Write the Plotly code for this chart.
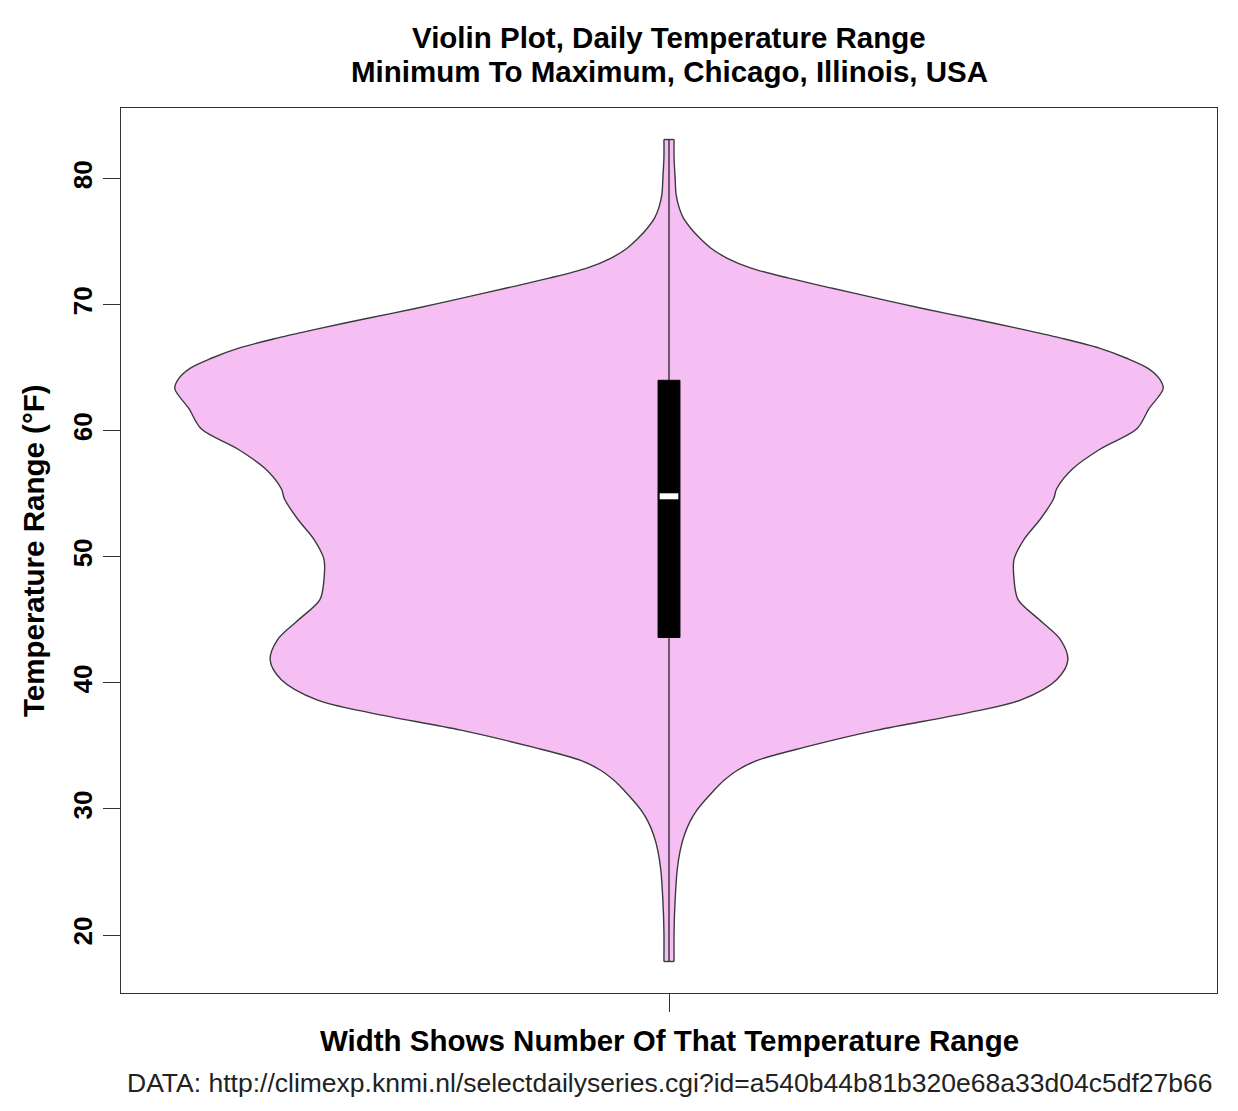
import plotly.graph_objects as go

# violin outline: temperature range (°F) and half-width
temp_levels = [83.1, 81.65, 80.1, 78.75, 77.7, 76.9, 76.1, 75.3, 74.5, 73.7,
               72.9, 72.1, 71.3, 70.5, 69.7, 68.9, 68.1, 67.35, 66.55, 65.75,
               64.95, 64.15, 63.35, 61.75, 60.15, 58.55, 57.0, 55.4, 54.6, 53.0,
               51.4, 49.8, 48.2, 46.6, 45.0, 43.4, 41.8, 40.25, 38.65, 37.6,
               36.25, 34.9, 33.85, 33.05, 32.25, 31.45, 30.65, 29.85, 29.05, 27.9,
               26.7, 25.1, 22.7, 20.3, 17.9]
half_width = [0.005, 0.005, 0.006, 0.007, 0.010, 0.014, 0.021, 0.030, 0.041, 0.057,
              0.081, 0.118, 0.161, 0.205, 0.250, 0.298, 0.345, 0.386, 0.424, 0.451,
              0.472, 0.483, 0.487, 0.473, 0.461, 0.425, 0.398, 0.382, 0.379, 0.366,
              0.350, 0.340, 0.340, 0.344, 0.365, 0.386, 0.393, 0.382, 0.347, 0.293,
              0.205, 0.134, 0.087, 0.067, 0.054, 0.044, 0.035, 0.027, 0.021, 0.015,
              0.011, 0.008, 0.006, 0.005, 0.005]

whisker_low, whisker_high = 17.9, 83.1
q1, median, q3 = 43.6, 54.8, 64.0
y_ticks = [20, 30, 40, 50, 60, 70, 80]

title_lines = ['Violin Plot, Daily Temperature Range',
               'Minimum To Maximum, Chicago, Illinois, USA']
x_title = 'Width Shows Number Of That Temperature Range'
y_title = 'Temperature Range (°F)'
source_note = 'DATA: http://climexp.knmi.nl/selectdailyseries.cgi?id=a540b44b81b320e68a33d04c5df27b66'

# the page body adds an 8px margin, so the figure is drawn 8px smaller/shifted
OFF = 8
W, H = 1238 - OFF, 1111 - OFF
ML, MR, MT, MB = 121 - OFF, 21, 108 - OFF, 118
FONT = 'Liberation Sans, Arial, sans-serif'
center = 1.0
box_hw = 0.0108
med_hw = 0.0092
fill_col = '#F5BFF4'
edge = dict(color='#3a3a3a', width=1.4)


def paper(px, py):
    # px, py are positions in the reference picture
    return (px - OFF - ML) / (W - ML - MR), (H - MB - (py - OFF)) / (H - MT - MB)


fig = go.Figure()

# violin body: left edge, then right edge filled back to the left one
fig.add_trace(go.Scatter(
    x=[center - w for w in half_width], y=temp_levels, mode='lines',
    line=dict(**edge, shape='spline', smoothing=0.9),
    hoverinfo='skip', showlegend=False
))
fig.add_trace(go.Scatter(
    x=[center + w for w in half_width], y=temp_levels, mode='lines',
    fill='tonextx', fillcolor=fill_col,
    line=dict(**edge, shape='spline', smoothing=0.9),
    hoverinfo='skip', showlegend=False
))
# flat caps at both ends
for i in (0, -1):
    fig.add_trace(go.Scatter(
        x=[center - half_width[i], center + half_width[i]], y=[temp_levels[i], temp_levels[i]],
        mode='lines', line=edge, hoverinfo='skip', showlegend=False
    ))

# whisker
fig.add_trace(go.Scatter(
    x=[center, center], y=[whisker_low, whisker_high], mode='lines',
    line=dict(color='#222222', width=1.3), showlegend=False, hoverinfo='skip'
))

# box (interquartile range)
fig.add_trace(go.Scatter(
    x=[center - box_hw, center + box_hw, center + box_hw, center - box_hw, center - box_hw],
    y=[q1, q1, q3, q3, q1], mode='lines', fill='toself', fillcolor='black',
    line=dict(color='black', width=1), showlegend=False, hoverinfo='skip'
))

# median
fig.add_trace(go.Scatter(
    x=[center - med_hw, center + med_hw], y=[median, median], mode='lines',
    line=dict(color='white', width=6), showlegend=False, hoverinfo='skip'
))

annotations = []
for text, py in zip(title_lines, [37, 72]):
    ax, ay = paper(669, py)
    annotations.append(dict(text=text, x=ax, y=ay, xref='paper', yref='paper',
                            xanchor='center', yanchor='middle', showarrow=False,
                            font=dict(family=FONT, size=29.5, color='black', weight='bold')))
ax, ay = paper(669, 1040)
annotations.append(dict(text=x_title, x=ax, y=ay, xref='paper', yref='paper',
                        xanchor='center', yanchor='middle', showarrow=False,
                        font=dict(family=FONT, size=29.5, color='black', weight='bold')))
ax, ay = paper(33, 551)
annotations.append(dict(text=y_title, x=ax, y=ay, xref='paper', yref='paper', textangle=-90,
                        xanchor='center', yanchor='middle', showarrow=False,
                        font=dict(family=FONT, size=29.5, color='black', weight='bold')))
ax, ay = paper(669.5, 1083)
annotations.append(dict(text=source_note, x=ax, y=ay, xref='paper', yref='paper',
                        xanchor='center', yanchor='middle', showarrow=False,
                        font=dict(family=FONT, size=26.5, color='#222222')))

fig.update_layout(
    width=W, height=H,
    margin=dict(l=ML, r=MR, t=MT, b=MB),
    paper_bgcolor='white',
    plot_bgcolor='white',
    showlegend=False,
    annotations=annotations,
    xaxis=dict(range=[0.46, 1.54], tickvals=[center], ticktext=[''], ticks='outside',
               ticklen=18, tickwidth=1.3, tickcolor='#333333', showgrid=False, zeroline=False,
               showline=True, linecolor='#333333', linewidth=1.4, mirror=True, fixedrange=True),
    yaxis=dict(range=[15.4, 85.6], tickvals=y_ticks, ticks='outside', ticklen=17,
               tickwidth=1.3, tickcolor='#333333', tickangle=-90,
               tickfont=dict(family=FONT, size=26, color='black', weight='bold'),
               showgrid=False, zeroline=False, showline=True, linecolor='#333333',
               linewidth=1.4, mirror=True, fixedrange=True),
)

fig.write_html("out.html")
